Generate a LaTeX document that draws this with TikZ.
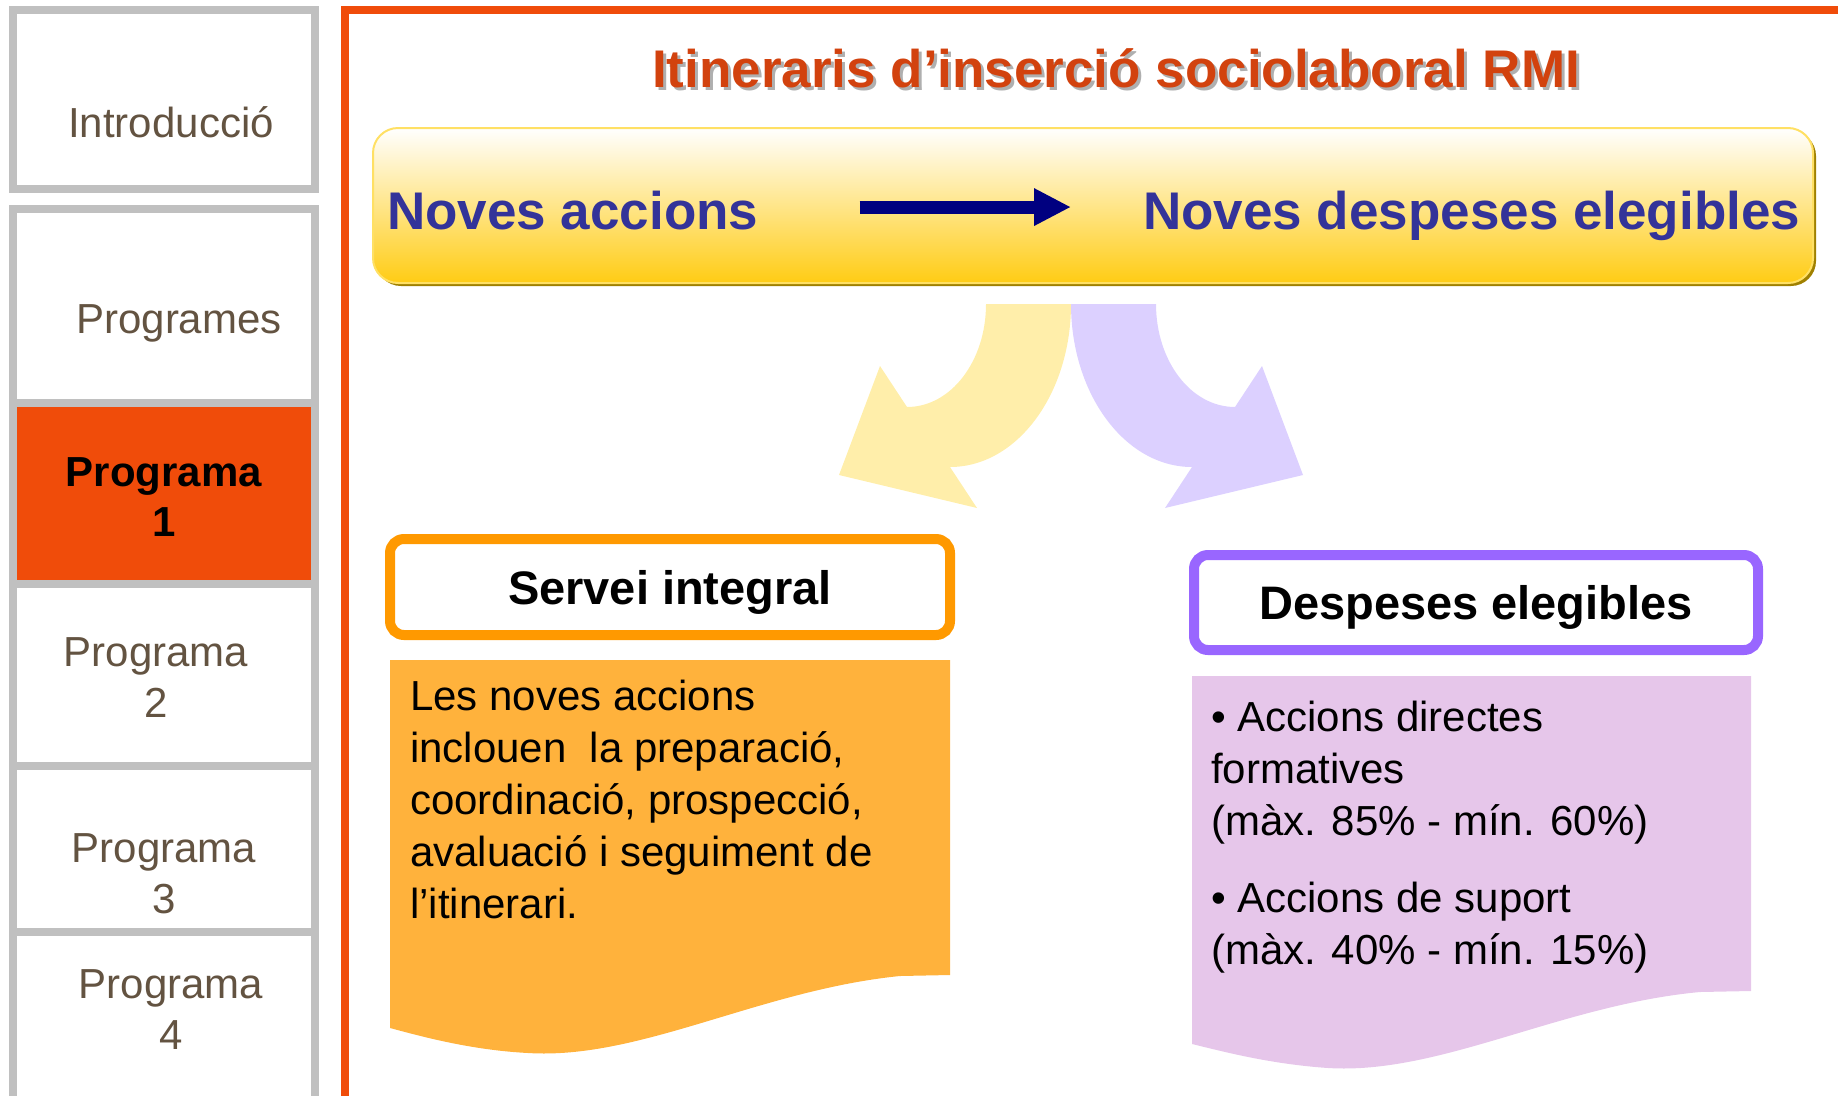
\documentclass[tikz,border=0pt]{standalone}
\usepackage{fontspec}
\setmainfont{Liberation Sans}
\usetikzlibrary{positioning,arrows.meta}
\definecolor{frameOrange}{RGB}{240,76,10}
\definecolor{titleRed}{RGB}{210,66,14}
\definecolor{titleShade}{RGB}{175,175,175}
\definecolor{menuGray}{RGB}{192,192,192}
\definecolor{menuText}{RGB}{99,83,65}
\definecolor{bandGold}{RGB}{255,204,20}
\definecolor{bandPeach}{RGB}{255,233,190}
\definecolor{bandEdge}{RGB}{255,224,100}
\definecolor{bandShadow}{RGB}{160,128,0}
\definecolor{textBlue}{RGB}{51,51,153}
\definecolor{arrowNavy}{RGB}{0,0,128}
\definecolor{servOrange}{RGB}{255,153,0}
\definecolor{despViolet}{RGB}{153,102,255}
\definecolor{noteOrange}{RGB}{255,178,60}
\definecolor{notePink}{RGB}{230,198,234}
\definecolor{curlYellow}{RGB}{255,238,170}
\definecolor{curlLilac}{RGB}{220,208,255}

\begin{document}
\begin{tikzpicture}[x=1pt,y=-1pt,
    menubox/.style={draw=menuGray, line width=8pt},
    menutext/.style={text=menuText, font=\fontsize{42}{51}\selectfont, align=center, inner sep=0pt, anchor=base},
    headbox/.style={fill=white, line width=10pt, rounded corners=14pt, font=\bfseries\fontsize{47}{56}\selectfont,
        text height=34pt, text depth=0pt, inner sep=0pt},
    notetext/.style={font=\fontsize{42}{52}\selectfont, align=left, inner sep=0pt, anchor=base west},
    bandtext/.style={text=textBlue, font=\bfseries\fontsize{53}{60}\selectfont, inner sep=0pt, anchor=base west},
    titletext/.style={font=\bfseries\fontsize{53}{60}\selectfont, inner sep=0pt, anchor=base}]

\useasboundingbox (0,0) rectangle (1838,1095);

% sidebar
\fill[frameOrange] (13,403) rectangle (315,584);
\foreach \ya/\yb in {10/189, 209/403, 403/584, 584/766, 766/932, 932/1110}
    \draw[menubox] (13,\ya) rectangle (315,\yb);
\node[menutext] (intro) at (171,137) {Introducció};
\node[menutext] (progs) at (179,333) {Programes};
% two-line nodes sit on their last line
\node[menutext, text=black, font=\bfseries\fontsize{42}{50}\selectfont] (prog1) at (164,536) {Programa\\1};
\node[menutext] (prog2) at (156,717) {Programa\\2};
\node[menutext] (prog3) at (164,913) {Programa\\3};
\node[menutext] (prog4) at (171,1049) {Programa\\4};

% frame
\draw[frameOrange, line width=8pt] (1845,10) -- (345,10) -- (345,1100);

% title
\node[titletext, text=titleShade] (titleShadow) at (1119,90) {Itineraris d’inserció sociolaboral RMI};
\node[titletext, text=titleRed] (title) at (1116,87) {Itineraris d’inserció sociolaboral RMI};

% band
\fill[bandShadow, rounded corners=25pt] (376,131) rectangle (1816,286);
\draw[bandEdge, line width=2pt, rounded corners=25pt, top color=white, middle color=bandPeach, bottom color=bandGold]
    (373,128) rectangle (1813,283);
\node[bandtext] (accions) at (387,229) {Noves accions};
\node[bandtext] (despeses) at (1143,229) {Noves despeses elegibles};
\draw[arrowNavy, line width=13pt, -{Triangle[length=37pt,width=35pt]}, shorten <=101pt, shorten >=72pt]
    ([yshift=3pt]accions.east) -- ([yshift=3pt]accions.east -| despeses.west);

% curved arrows
\fill[curlYellow] (986,304) -- (1071,304) .. controls (1071,394) and (1017,467) .. (950,467)
    -- (977,508) -- (839,475) -- (880,366) -- (907,407) .. controls (951,407) and (986,361) .. (986,304) -- cycle;
\fill[curlLilac] (1156,304) -- (1071,304) .. controls (1071,394) and (1125,467) .. (1192,467)
    -- (1165,508) -- (1303,475) -- (1262,366) -- (1235,407) .. controls (1191,407) and (1156,361) .. (1156,304) -- cycle;

% notes
\fill[noteOrange] (390,660) -- (950,660) -- (950,975) -- (900,976) .. controls (760,990) and (640,1060) .. (528,1053)
    .. controls (470,1050) and (420,1036) .. (390,1028) -- cycle;
\fill[notePink] (1192,676) -- (1751,676) -- (1751,991) -- (1700,992) .. controls (1560,1005) and (1440,1075) .. (1328,1068)
    .. controls (1270,1064) and (1225,1052) .. (1192,1044) -- cycle;

\node[headbox, draw=servOrange, minimum width=560pt, minimum height=96pt] (servei) at (670,587) {Servei integral};
\node[headbox, draw=despViolet, minimum width=564pt, minimum height=95pt] (despHead) at (1476,602.5) {Despeses elegibles};

\node[notetext] (serveiText) at (410,918) {Les noves accions\\inclouen\ \ la preparació,\\coordinació, prospecció,\\avaluació i seguiment de\\l’itinerari.};
\node[notetext] (despText) at (1211,964) {• Accions directes\\formatives\\(màx. 85\% - mín. 60\%)\\[25pt]• Accions de suport\\(màx. 40\% - mín. 15\%)};
\end{tikzpicture}
\end{document}
